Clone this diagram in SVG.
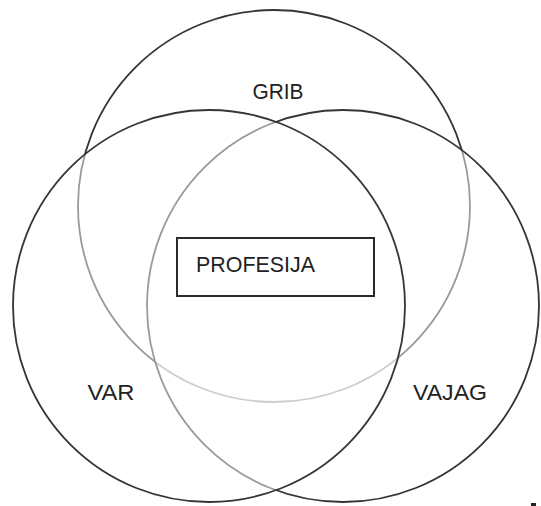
<svg xmlns="http://www.w3.org/2000/svg" width="541" height="506" viewBox="0 0 541 506">
  <style>
    .set { fill: #ffffff; fill-opacity: 0.5; stroke: #353535; stroke-width: 1.8; }
    .lbl { font-family: "Liberation Sans", Arial, sans-serif; font-size: 22px; fill: #222222; text-anchor: middle; }
    .box { fill: #ffffff; stroke: #2a2a2a; stroke-width: 2; }
  </style>
  <rect x="0" y="0" width="541" height="506" fill="#ffffff"/>
  <g id="grib">
    <circle class="set" cx="274" cy="206" r="196"/>
    <text class="lbl" x="278" y="99" textLength="51" lengthAdjust="spacingAndGlyphs">GRIB</text>
  </g>
  <g id="vajag">
    <circle class="set" cx="343" cy="306" r="196"/>
    <text class="lbl" x="450" y="400" textLength="74" lengthAdjust="spacingAndGlyphs">VAJAG</text>
  </g>
  <g id="var">
    <circle class="set" cx="209" cy="306" r="196"/>
    <text class="lbl" x="111" y="400" textLength="47" lengthAdjust="spacingAndGlyphs">VAR</text>
  </g>
  <g id="profesija">
    <rect class="box" x="177" y="238" width="197" height="58"/>
    <text class="lbl" x="196" y="272" style="text-anchor:start" textLength="119" lengthAdjust="spacingAndGlyphs">PROFESIJA</text>
  </g>
  <g id="connectors"></g>
  <rect x="531" y="503" width="5" height="3" fill="#222222"/>
</svg>
